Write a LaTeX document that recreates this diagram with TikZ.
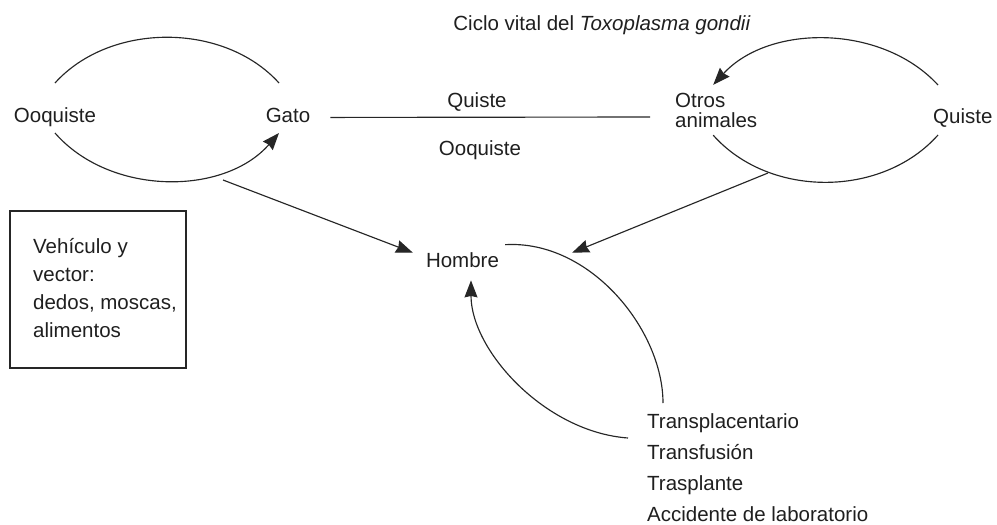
\documentclass[tikz,border=0pt]{standalone}
\usepackage{fontspec}
\setmainfont{Liberation Sans}
\usetikzlibrary{arrows.meta,calc}
\begin{document}
\begin{tikzpicture}[x=1pt,y=-1pt,
  txt/.style={inner sep=0pt,text=black!88,font=\fontsize{20.5pt}{20.5pt}\selectfont},
  conn/.style={line width=1.15pt,draw=black!85},
  arr/.style={conn,-{Stealth[length=17pt,width=13pt,inset=1.5pt]}}]
\useasboundingbox (0,0) rectangle (997,525);
% title
\node[txt,anchor=base] (title) at (602,30) {Ciclo vital del \textit{Toxoplasma gondii}};
% nodes
\node[txt,anchor=base] (ooq) at (55,122) {Ooquiste};
\node[txt,anchor=base] (gato) at (288,122) {Gato};
\node[txt,anchor=west,align=left] (otros) at (675,110.5) {Otros\\animales};
\node[txt,anchor=base west] (quiste) at (933,123) {Quiste};
\node[txt,anchor=base] (lq) at (477,107) {Quiste};
\node[txt,anchor=base] (lo) at (480,155) {Ooquiste};
\node[txt,anchor=base] (hom) at (462.5,267) {Hombre};
\node[txt,anchor=north west,align=left,font=\fontsize{20.5pt}{31.3pt}\selectfont] (trans) at (647,413)
  {Transplacentario\\Transfusión\\Trasplante\\Accidente de laboratorio};
\node[txt,anchor=north west,align=left,font=\fontsize{20.5pt}{28pt}\selectfont] (veh) at (33,238)
  {Vehículo y\\vector:\\dedos, moscas,\\alimentos};
\draw[conn] (10,211) rectangle (186,368);
% left loop
\draw[conn] ([yshift=39pt]ooq.base) .. controls +(55,-61) and +(-55,-61) .. ([xshift=-9pt,yshift=39pt]gato.base);
\draw[arr] ([yshift=-11pt]ooq.base) .. controls +(55,63) and +(-55,63) .. ([xshift=-9pt,yshift=-11pt]gato.base);
% right loop
\draw[arr] ([xshift=5pt,yshift=38pt]quiste.base west) .. controls +(-56,-61) and +(56,-61) .. ([xshift=-3pt,yshift=8pt]otros.north);
\draw[conn] ([xshift=-3pt,yshift=-7pt]otros.south) .. controls +(56,63) and +(-56,63) .. ([xshift=5pt,yshift=-12pt]quiste.base west);
% line between Gato and Otros animales
\draw[conn] ([xshift=20pt,yshift=-2.5pt]gato.east) -- ([xshift=-25pt,yshift=-6.5pt]otros.west);
% arrows to Hombre
\coordinate (cL) at (223,180);
\coordinate (cR) at (768,173);
\draw[arr] (cL) -- ([xshift=-13pt,yshift=7pt]hom.west);
\draw[arr] (cR) -- ([xshift=73pt,yshift=7pt]hom.east);
% Hombre loop
\draw[conn] ([xshift=6pt,yshift=15pt]hom.east) .. controls +(85,-5) and +(0,-73) .. ([xshift=16pt,yshift=10pt]trans.north west);
\draw[arr] ([xshift=-19pt,yshift=-25pt]trans.north west) .. controls +(-83,-6) and +(0,70) .. ([xshift=8.5pt,yshift=-13pt]hom.south);
\end{tikzpicture}
\end{document}
